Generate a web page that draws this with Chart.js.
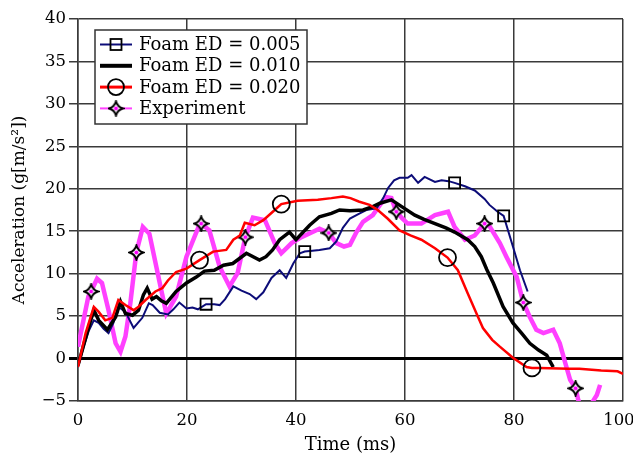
<!DOCTYPE html>
<html>
<head>
<meta charset="utf-8">
<script src="https://cdn.jsdelivr.net/npm/chart.js@4/dist/chart.umd.min.js"></script>
<style>
  html, body { margin: 0; padding: 0; background: #fff; }
</style>
</head>
<body>
<canvas id="canvas" width="633" height="460"></canvas>
<script>
// values (time in ms, acceleration in g[m/s^2])
var foam005Time = [0, 1, 2, 2.9, 3.8, 4.7, 5.6, 6.5, 7.4, 8.7, 10.2, 11.8, 13, 13.7, 15, 16.5, 17.5, 18.6, 19.9, 21, 22, 23.5, 25, 26, 27, 28.5, 30, 31.5, 32.7, 34, 35.5, 37, 38.2, 39.5, 40.7, 41.6, 43, 44.3, 46.2, 47.4, 48.6, 49.9, 51.7, 52.9, 54.8, 56, 56.9, 58, 59, 60.5, 61.2, 62.4, 63.6, 65.5, 66.7, 68, 69.1, 71, 72.8, 74.6, 75.5, 77, 78.1, 79.8, 81.1, 82.5];
var foam005Acc = [-1, 1.3, 3.3, 4.5, 4.2, 3.5, 3.0, 4.2, 6.1, 5.5, 3.6, 4.8, 6.5, 6.3, 5.4, 5.2, 5.8, 6.6, 5.9, 6.0, 5.8, 6.4, 6.4, 6.3, 7.0, 8.5, 8.0, 7.6, 7.0, 7.8, 9.5, 10.4, 9.5, 11.2, 12.4, 12.6, 12.7, 12.8, 13.0, 13.8, 15.4, 16.5, 17.1, 17.5, 17.7, 18.9, 20.1, 21.0, 21.3, 21.3, 21.6, 20.7, 21.4, 20.8, 21.0, 20.9, 20.7, 20.3, 19.8, 18.8, 18.1, 17.3, 16.8, 13.2, 10.4, 7.9];
var foam005Marks = [23.5, 41.6, 69.1, 78.1];

var foam010Time = [0, 1, 2, 2.9, 3.8, 5.4, 6.9, 7.8, 8.7, 10, 11.1, 12, 12.7, 13.6, 14.4, 15.3, 16.2, 18, 19.9, 21.7, 23.2, 25, 26.7, 28.4, 30.9, 33.3, 34.5, 35.7, 37, 38.8, 40, 42.5, 44.3, 46.5, 48, 49.9, 52.3, 54.1, 55.4, 57.5, 59.4, 61.8, 63.5, 65.5, 67.5, 69.1, 71.5, 72.8, 74, 75, 76.2, 78, 79.8, 81.5, 82.9, 84.5, 86, 87.2];
var foam010Acc = [-0.8, 1.5, 3.8, 5.7, 4.5, 3.4, 4.9, 6.7, 5.3, 5.1, 5.7, 7.5, 8.3, 7.0, 7.3, 6.8, 6.5, 7.9, 8.9, 9.6, 10.3, 10.4, 11.0, 11.2, 12.4, 11.6, 12.0, 12.8, 14.0, 14.9, 14.0, 15.7, 16.7, 17.1, 17.5, 17.4, 17.5, 17.9, 18.3, 18.7, 17.9, 16.9, 16.4, 15.9, 15.4, 14.9, 14.0, 13.2, 12.0, 10.5, 8.9, 6.1, 4.2, 2.9, 1.8, 1.0, 0.4, -1.0];

var foam020Time = [0, 1.4, 2.9, 3.8, 5.0, 6.3, 7.4, 8.7, 10.2, 11.1, 12.4, 14.2, 15.5, 16.5, 18, 19.9, 22.3, 24.8, 27.2, 28.5, 29.7, 30.6, 32.4, 34, 36.1, 37.3, 40.3, 44, 46.5, 48.6, 50, 51.5, 53.5, 55, 56.8, 59, 61, 63, 65.5, 67.8, 69.7, 71.5, 73.4, 74.3, 76, 77.4, 79.8, 82.3, 83.3, 84.8, 90, 92, 96, 99, 100];
var foam020Acc = [-1, 3.0, 6.1, 5.5, 4.5, 4.8, 6.9, 6.3, 5.7, 6.1, 6.9, 7.9, 8.3, 9.2, 10.2, 10.6, 11.6, 12.6, 12.8, 14.0, 14.5, 16.0, 15.7, 16.3, 17.5, 18.2, 18.6, 18.7, 18.9, 19.1, 18.9, 18.5, 18.1, 17.5, 16.5, 15.1, 14.5, 14.0, 13.0, 11.9, 10.4, 7.7, 4.9, 3.6, 2.2, 1.4, 0.1, -1.0, -1.1, -1.1, -1.2, -1.2, -1.4, -1.5, -1.8];
var foam020Marks = [22.3, 37.3, 67.8, 83.3];

var expTime = [0, 1.9, 2.4, 3.5, 4.4, 5.6, 6.9, 7.8, 8.7, 9.6, 10.7, 11.9, 13.1, 15.0, 16.2, 18, 19.9, 22.3, 22.6, 24.1, 26, 27.8, 29.3, 30.7, 32.1, 34.3, 36.1, 37.3, 39.2, 41, 44.3, 46, 47.4, 48.8, 49.9, 51.1, 52.3, 54.1, 55.4, 56.6, 57.5, 58.4, 59.5, 60.5, 63, 65.5, 67.9, 69.1, 71, 72.8, 74.6, 75.5, 77.4, 78.6, 80.5, 81.7, 82.9, 84.1, 85.4, 87.2, 88.4, 89.4, 90.3, 91.3, 91.8, 92.5, 93.8, 94.5, 95.2, 95.8];
var expAcc = [1.4, 7.3, 7.9, 9.4, 8.9, 5.7, 1.8, 0.8, 2.6, 6.5, 12.5, 15.5, 14.7, 8.9, 5.3, 7.3, 12.0, 15.8, 15.9, 15.1, 10.8, 8.5, 10.1, 14.3, 16.6, 16.3, 13.6, 12.4, 13.6, 14.3, 15.3, 14.8, 13.6, 13.2, 13.4, 14.9, 16.1, 16.9, 18.1, 19.0, 18.9, 17.3, 16.5, 15.9, 15.9, 16.9, 17.3, 15.5, 14.0, 14.5, 15.9, 15.6, 13.6, 12.0, 9.6, 6.6, 4.9, 3.4, 3.0, 3.4, 1.8, -0.5, -2.5, -3.5, -4.9, -6, -6, -5, -4.3, -3.1];
var expMarks = [2.4, 10.7, 22.6, 30.7, 46, 58.4, 74.6, 81.7, 91.3];

var xTicks = [0, 20, 40, 60, 80, 100];
var yTicks = [-5, 0, 5, 10, 15, 20, 25, 30, 35, 40];

var serif = '"DejaVu Serif", serif';

function pairs(t, a) {
    return t.map(function (x, i) { return {x: x, y: a[i]}; });
}

function markRadius(marks, r) {
    return function (ctx) {
        return ctx.raw && marks.indexOf(ctx.raw.x) >= 0 ? r : 0;
    };
}

// four pointed star used for the experiment markers
function makeStar(size) {
    var c = document.createElement('canvas');
    c.width = size; c.height = size;
    var g = c.getContext('2d');
    var m = size / 2, r = size / 2 - 1.5, k = r * 0.22;
    g.beginPath();
    g.moveTo(m, m - r);
    g.quadraticCurveTo(m + k, m - k, m + r, m);
    g.quadraticCurveTo(m + k, m + k, m, m + r);
    g.quadraticCurveTo(m - k, m + k, m - r, m);
    g.quadraticCurveTo(m - k, m - k, m, m - r);
    g.closePath();
    g.fillStyle = '#fff';
    g.fill();
    g.lineWidth = 2;
    g.strokeStyle = '#000';
    g.stroke();
    g.beginPath();
    g.arc(m, m, 2, 0, Math.PI * 2);
    g.fillStyle = '#ff00ff';
    g.fill();
    return c;
}
var star = makeStar(17);

// legend drawn as a framed box inside the plot, like the original
var boxLegend = {
    id: 'boxLegend',
    afterDraw: function (chart) {
        var c = chart.ctx;
        var x0 = 95, y0 = 30, w = 212, h = 94;
        c.save();
        c.fillStyle = '#fff';
        c.fillRect(x0, y0, w, h);
        c.lineWidth = 1.5;
        c.strokeStyle = '#333';
        c.strokeRect(x0, y0, w, h);
        chart.data.datasets.forEach(function (ds, i) {
            var y = 44.5 + i * 21.3;
            c.beginPath();
            c.moveTo(100, y);
            c.lineTo(132, y);
            c.lineWidth = ds.legendWidth;
            c.strokeStyle = ds.borderColor;
            c.stroke();
            c.lineWidth = 1.8;
            c.strokeStyle = '#000';
            if (ds.mark === 'rect') {
                c.strokeRect(116 - 5.5, y - 5.5, 11, 11);
            } else if (ds.mark === 'circle') {
                c.beginPath();
                c.arc(116, y, 8, 0, Math.PI * 2);
                c.stroke();
            } else if (ds.mark === 'star') {
                c.drawImage(star, 116 - star.width / 2, y - star.height / 2);
            }
            c.fillStyle = '#000';
            c.font = '18px ' + serif;
            c.textBaseline = 'middle';
            c.textAlign = 'left';
            c.fillText(ds.label, 139, y + 1);
        });
        c.restore();
    }
};

var ctx = document.getElementById('canvas').getContext('2d');
var myChart = new Chart(ctx, {
    type: 'line',
    data: {
        datasets: [{
            label: 'Foam ED = 0.005',
            data: pairs(foam005Time, foam005Acc),
            borderColor: '#0c0c78',
            borderWidth: 2,
            legendWidth: 2,
            mark: 'rect',
            pointStyle: 'rect',
            pointRadius: markRadius(foam005Marks, 7.8),
            pointBorderColor: '#000',
            pointBorderWidth: 1.8,
            pointBackgroundColor: 'rgba(0,0,0,0)',
            order: 3
        }, {
            label: 'Foam ED = 0.010',
            data: pairs(foam010Time, foam010Acc),
            borderColor: '#000',
            borderWidth: 3.5,
            legendWidth: 4,
            mark: 'none',
            pointRadius: 0,
            order: 2
        }, {
            label: 'Foam ED = 0.020',
            data: pairs(foam020Time, foam020Acc),
            borderColor: '#ff0000',
            borderWidth: 2.5,
            legendWidth: 3,
            mark: 'circle',
            pointStyle: 'circle',
            pointRadius: markRadius(foam020Marks, 8.5),
            pointBorderColor: '#000',
            pointBorderWidth: 1.8,
            pointBackgroundColor: 'rgba(0,0,0,0)',
            order: 1
        }, {
            label: 'Experiment',
            data: pairs(expTime, expAcc),
            borderColor: '#ff40ff',
            borderWidth: 4.5,
            legendWidth: 2,
            mark: 'star',
            pointStyle: star,
            pointRadius: markRadius(expMarks, 8),
            order: 4
        }]
    },
    options: {
        responsive: false,
        animation: false,
        events: [],
        elements: {
            line: { tension: 0 }
        },
        layout: { padding: { left: 0, top: 19, right: 10, bottom: 0 } },
        plugins: {
            legend: { display: false },
            tooltip: { enabled: false }
        },
        scales: {
            x: {
                type: 'linear',
                min: 0,
                max: 100,
                afterBuildTicks: function (s) {
                    s.ticks = xTicks.map(function (v) { return {value: v}; });
                },
                afterFit: function (s) {
                    s.height = 59;
                    s.paddingLeft = 0;
                    s.paddingRight = 0;
                },
                grid: { color: '#3a3a3a', lineWidth: 1.5, drawTicks: false },
                border: { color: '#3a3a3a', width: 1.5 },
                ticks: {
                    padding: 10,
                    color: '#000',
                    maxRotation: 0,
                    font: { family: serif, size: 16.5 },
                    // last label sits a little inside the frame, as in the original
                    callback: function (v) { return v === 100 ? '100\u2002' : String(v); }
                },
                title: {
                    display: true,
                    text: 'Time (ms)',
                    color: '#000',
                    font: { family: serif, size: 18 },
                    padding: { top: 0, bottom: 4 }
                }
            },
            y: {
                type: 'linear',
                min: -5,
                max: 40,
                afterBuildTicks: function (s) {
                    s.ticks = yTicks.map(function (v) { return {value: v}; });
                },
                afterFit: function (s) {
                    s.width = 78;
                },
                grid: {
                    color: function (c) { return c.tick && c.tick.value === 0 ? '#000' : '#3a3a3a'; },
                    lineWidth: function (c) { return c.tick && c.tick.value === 0 ? 3 : 1.5; },
                    tickLength: 9
                },
                border: { color: '#3a3a3a', width: 1.5 },
                ticks: {
                    padding: 3,
                    color: '#000',
                    font: { family: serif, size: 16.5 },
                    callback: function (v) { return v < 0 ? '\u2212' + Math.abs(v) : String(v); }
                },
                title: {
                    display: true,
                    text: 'Acceleration (g[m/s\u00b2])',
                    color: '#000',
                    font: { family: serif, size: 17 },
                    padding: { top: 9, bottom: 0 }
                }
            }
        }
    },
    plugins: [boxLegend]
});
</script>
</body>
</html>
